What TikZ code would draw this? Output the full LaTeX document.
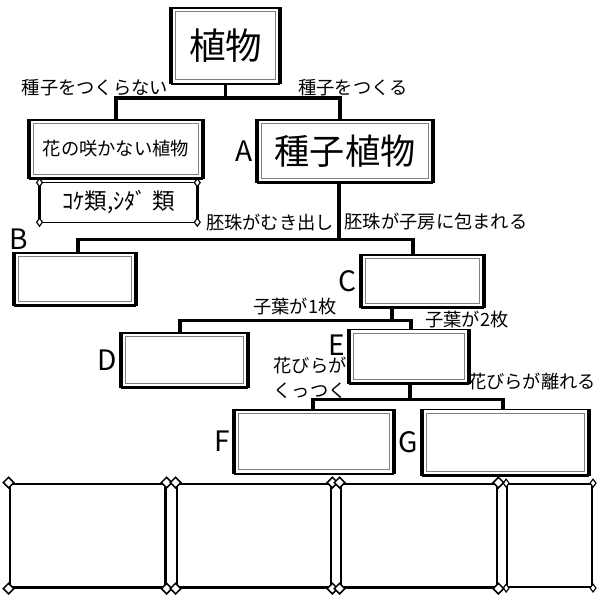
\documentclass[tikz,border=0pt]{standalone}
\usepackage{fontspec}
\setmainfont{Noto Sans CJK JP}
\usetikzlibrary{positioning, calc, shapes.geometric}

\begin{document}
\begin{tikzpicture}[
  frame/.style={rectangle, draw, line width=0.9pt, inner sep=2pt,
    append after command={
      (\tikzlastnode.north west) edge[line width=3pt] (\tikzlastnode.south west)
      (\tikzlastnode.north east) edge[line width=3pt] (\tikzlastnode.south east)
      (\tikzlastnode.south west) edge[line width=1.8pt] (\tikzlastnode.south east)
      ([shift={(3pt,-3pt)}]\tikzlastnode.north west) edge[draw=gray, line width=0.8pt, to path={rectangle (\tikztotarget)}] ([shift={(-3pt,3pt)}]\tikzlastnode.south east)
    }},
  mossbox/.style={rectangle, inner sep=2pt,
    append after command={
      (\tikzlastnode.north west) edge[line width=0.8pt] (\tikzlastnode.north east)
      (\tikzlastnode.south west) edge[line width=0.8pt] (\tikzlastnode.south east)
      (\tikzlastnode.north west) edge[line width=2.2pt] (\tikzlastnode.south west)
      (\tikzlastnode.north east) edge[line width=2.2pt] (\tikzlastnode.south east)
    }},
  cell/.style={rectangle, draw, line width=2pt, minimum height=2.58cm},
  dia/.style={diamond, draw, fill=white, line width=1.1pt, inner sep=0pt, minimum width=8pt, minimum height=8pt},
  smalldia/.style={diamond, draw, fill=white, line width=0.8pt, inner sep=0pt, minimum width=4.5pt, minimum height=6pt},
  link/.style={line width=2.6pt},
  lbl/.style={font=\fontsize{13}{17.5}\selectfont, inner sep=1pt},
  tag/.style={font=\fontsize{20}{22}\selectfont, inner sep=1pt}
]
    \useasboundingbox (0,0) rectangle (15,-15);

    % Boxes
    \node[frame, minimum width=2.68cm, minimum height=1.88cm, font=\fontsize{26}{30}\selectfont] (plant) at (5.64,-1.14) {植物};
    \node[frame, minimum width=4.3cm, minimum height=1.45cm, font=\fontsize{13}{15}\selectfont] (nf) at (2.9,-3.725) {花の咲かない植物};
    \node[mossbox, minimum width=3.93cm, minimum height=0.975cm, font=\fontsize{16}{18}\selectfont] (moss) at (2.96,-5.06) {ｺｹ類,ｼﾀﾞ 類};
    \node[frame, minimum width=4.35cm, minimum height=1.55cm, font=\fontsize{25}{30}\selectfont] (seed) at (8.625,-3.775) {種子植物};
    \node[frame, minimum width=3cm, minimum height=1.3cm] (B) at (1.875,-6.975) {};
    \node[frame, minimum width=3.03cm, minimum height=1.3cm] (C) at (10.56,-7.025) {};
    \node[frame, minimum width=3.13cm, minimum height=1.35cm] (D) at (4.61,-9.0) {};
    \node[frame, minimum width=2.95cm, minimum height=1.33cm] (E) at (10.225,-8.91) {};
    \node[frame, minimum width=3.95cm, minimum height=1.58cm] (F) at (7.85,-11.04) {};
    \node[frame, minimum width=4.13cm, minimum height=1.63cm] (G) at (12.64,-11.06) {};

    % Letters
    \node[tag, left=2pt of seed] (tA) {A};
    \node[tag, anchor=south west, inner sep=0pt] (tB) at ([shift={(-0.125cm,0.075cm)}]B.north west) {B};
    \node[tag, left=2pt of C] (tC) {C};
    \node[tag, left=2pt of D] (tD) {D};
    \node[tag, left=2pt of E.west, yshift=0.29cm] (tE) {E};
    \node[tag, left=2pt of F] (tF) {F};
    \node[tag, left=2pt of G] (tG) {G};

    % Tree lines
    \draw[link] (plant.south) -- ++(0,-0.35) -| (nf.north);
    \draw[link] (plant.south) -- ++(0,-0.35) -| ([xshift=-0.125cm]seed.north);
    \draw[link] ([xshift=-0.15cm]seed.south) -- ++(0,-1.425) -| ([xshift=0.075cm]B.north);
    \draw[link] ([xshift=-0.15cm]seed.south) -- ++(0,-1.425) -| ([xshift=-0.24cm]C.north);
    \draw[link] ([xshift=-0.76cm]C.south) -- ++(0,-0.325) -| ([xshift=-0.11cm]D.north);
    \draw[link] ([xshift=-0.76cm]C.south) -- ++(0,-0.325) -| ([xshift=0.05cm]E.north);
    \draw[link] ([xshift=0.025cm]E.south) -- ++(0,-0.4) -| ([xshift=-0.025cm]F.north);
    \draw[link] ([xshift=0.025cm]E.south) -- ++(0,-0.4) -| ([xshift=-0.06cm]G.north);

    % Branch labels
    \node[lbl] (l1) at (2.375,-2.2) {種子をつくらない};
    \node[lbl] (l2) at (8.825,-2.2) {種子をつくる};
    \node[lbl] (l3) at (6.75,-5.55) {胚珠がむき出し};
    \node[lbl] (l4) at (10.9,-5.55) {胚珠が子房に包まれる};
    \node[lbl] (l5) at (7.375,-7.675) {子葉が1枚};
    \node[lbl] (l6) at (11.675,-8.0) {子葉が2枚};
    \node[lbl, align=center] (l7) at (7.75,-9.45) {花びらが\\くっつく};
    \node[lbl] (l8) at (13.3,-9.55) {花びらが離れる};

    % Bottom table
    \foreach \n/\x/\w in {b1/2.19/3.88, b2/6.35/3.85, b3/10.475/3.9}
      \node[cell, minimum width=\w cm] (\n) at (\x,-13.39) {};
    \node[cell, line width=1.2pt, minimum width=2.13cm] (b4) at (13.74,-13.39) {};

    % Corner marks
    \foreach \n in {moss, b4}
      \foreach \c/\k in {north west/nw, north east/ne, south west/sw, south east/se}
        \node[smalldia] (\n\k) at (\n.\c) {};
    \foreach \n in {b1, b2, b3}
      \foreach \c/\k in {north west/nw, north east/ne, south west/sw, south east/se}
        \node[dia] (\n\k) at (\n.\c) {};

\end{tikzpicture}
\end{document}
